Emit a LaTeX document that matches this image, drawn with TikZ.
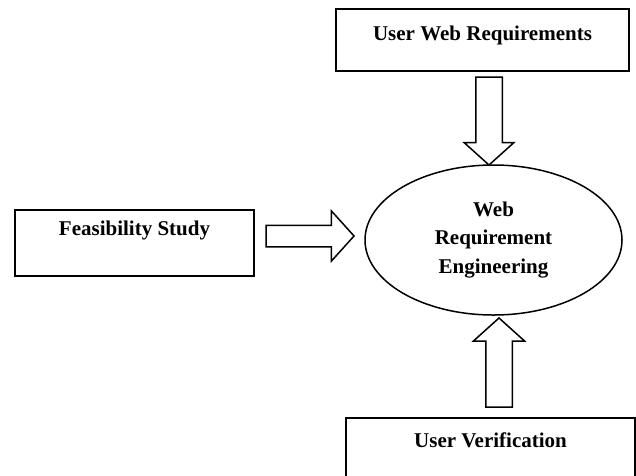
\documentclass[tikz,border=0pt]{standalone}
\usepackage{fontspec}
\setmainfont{Liberation Serif}
\usetikzlibrary{shapes.geometric,shapes.arrows}

\tikzset{
  box/.style={draw, line width=1.5pt, rectangle, inner sep=0pt,
    font=\bfseries\fontsize{21}{28.5}\selectfont, text height=15pt},
  blockarrow/.style={draw, line width=1.5pt, single arrow, anchor=tip,
    outer sep=0pt, single arrow tip angle=96}
}

\begin{document}
\begin{tikzpicture}[x=1pt, y=-1pt]
    \clip (0,0) rectangle (636,475);

    % the boxes (text sits in the upper part of each box)
    \node[box, minimum width=293pt, minimum height=62pt, text depth=15pt]
        (userweb) at (482.5,40) {User Web Requirements};
    \node[box, minimum width=239pt, minimum height=66pt, text depth=31pt]
        (feas) at (134.5,243) {Feasibility Study};
    \node[box, minimum width=289pt, minimum height=82pt, text depth=39pt]
        (userver) at (490.5,459) {User Verification};

    % the ellipse in the middle
    \node[draw, line width=1.5pt, ellipse, minimum width=257pt, minimum height=150pt,
        inner sep=0pt, align=center, font=\bfseries\fontsize{21}{28.5}\selectfont]
        (wre) at (493.5,240) {Web\\Requirement\\Engineering};

    % the block arrows, placed by their tips (inner sep gives half the shaft width)
    \node[blockarrow, shape border rotate=270, minimum height=88pt, inner sep=12.5pt,
        single arrow head extend=11.5pt] (arrdown) at (489,165) {};
    \node[blockarrow, minimum height=88pt, inner sep=10pt,
        single arrow head extend=14.5pt] (arrright) at (354,236) {};
    \node[blockarrow, shape border rotate=90, minimum height=89pt, inner sep=12.5pt,
        single arrow head extend=12.5pt] (arrup) at (499,318) {};

\end{tikzpicture}
\end{document}
